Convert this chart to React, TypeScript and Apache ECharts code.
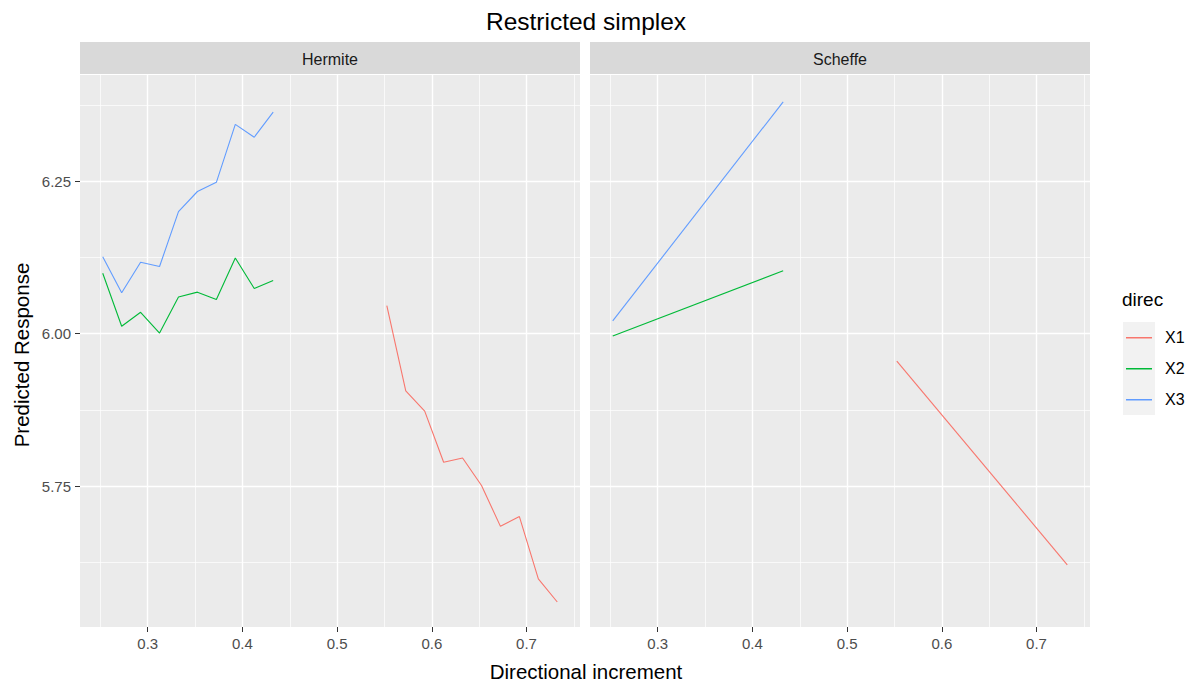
import React, { useEffect, useRef } from "react";
import * as echarts from "echarts";

// ---- data ----
const panels = ["Hermite", "Scheffe"];
const groups = ["X1", "X2", "X3"];
const groupColors = ["#F8766D", "#00BA38", "#619CFF"];

// Hermite panel
const hermiteX1X = [0.5525, 0.5725, 0.5925, 0.6125, 0.6325, 0.6525, 0.6725, 0.6925, 0.7125, 0.7325];
const hermiteX1Y = [6.046, 5.906, 5.873, 5.789, 5.796, 5.751, 5.684, 5.700, 5.598, 5.560];
const hermiteX2X = [0.2525, 0.2725, 0.2925, 0.3125, 0.3325, 0.3525, 0.3725, 0.3925, 0.4125, 0.4325];
const hermiteX2Y = [6.099, 6.012, 6.035, 6.001, 6.060, 6.068, 6.056, 6.124, 6.074, 6.087];
const hermiteX3X = [0.2525, 0.2725, 0.2925, 0.3125, 0.3325, 0.3525, 0.3725, 0.3925, 0.4125, 0.4325];
const hermiteX3Y = [6.126, 6.067, 6.117, 6.110, 6.200, 6.233, 6.248, 6.343, 6.322, 6.363];

// Scheffe panel (straight lines)
const scheffeX1X = [0.5525, 0.7325];
const scheffeX1Y = [5.955, 5.621];
const scheffeX2X = [0.2525, 0.4325];
const scheffeX2Y = [5.996, 6.103];
const scheffeX3X = [0.2525, 0.4325];
const scheffeX3Y = [6.021, 6.380];

// axes
const xRange = [0.2285, 0.7565];
const yRange = [5.519, 6.424];
const xTicks = [0.3, 0.4, 0.5, 0.6, 0.7];
const xMinor = [0.25, 0.35, 0.45, 0.55, 0.65, 0.75];
const yTicks = [5.75, 6.0, 6.25];
const yMinor = [5.625, 5.875, 6.125, 6.375];

const FONT = "'Liberation Sans', Arial, sans-serif";

const zip = (xs: number[], ys: number[]) => xs.map((x, i) => [x, ys[i]]);

const panelData = [
  [zip(hermiteX1X, hermiteX1Y), zip(hermiteX2X, hermiteX2Y), zip(hermiteX3X, hermiteX3Y)],
  [zip(scheffeX1X, scheffeX1Y), zip(scheffeX2X, scheffeX2Y), zip(scheffeX3X, scheffeX3Y)],
];

const PANEL_TOP = 75;
const PANEL_H = 552;
const PANEL_W = 500;
const PANEL_LEFTS = [80, 590];

// legend key glyph: a thin horizontal bar inside a 26x31 box
const KEY_ICON =
  "path://M0,0L0.01,0L0.01,0.01L0,0.01Z M25.99,30.99L26,30.99L26,31L25.99,31Z M0,15L26,15L26,16.4L0,16.4Z";

export default function App() {
  const ref = useRef<HTMLDivElement>(null);

  useEffect(() => {
    if (!ref.current) return;
    const chart = echarts.init(ref.current, null, { renderer: "svg" });

    const grids = PANEL_LEFTS.map((left) => ({
      left,
      top: PANEL_TOP,
      width: PANEL_W,
      height: PANEL_H,
      show: true,
      backgroundColor: "#EBEBEB",
      borderWidth: 0,
      containLabel: false,
    }));

    const xAxes: any[] = [];
    const yAxes: any[] = [];
    PANEL_LEFTS.forEach((_, gi) => {
      xAxes.push({
        type: "value",
        gridIndex: gi,
        position: "bottom",
        min: xRange[0],
        max: xRange[1],
        axisLine: { show: false },
        axisTick: { show: true, length: 5, customValues: xTicks, lineStyle: { color: "#333333", width: 1 } },
        axisLabel: {
          show: true,
          customValues: xTicks,
          formatter: (v: number) => v.toFixed(1),
          color: "#4D4D4D",
          fontSize: 15,
          fontFamily: FONT,
          margin: 9,
        },
        splitLine: { show: true, lineStyle: { color: "#FFFFFF", width: 1.4 } },
      });
      xAxes.push({
        type: "value",
        gridIndex: gi,
        position: "bottom",
        min: xRange[0],
        max: xRange[1],
        axisLine: { show: false },
        axisTick: { show: false, customValues: xMinor },
        axisLabel: { show: false },
        splitLine: { show: true, lineStyle: { color: "#FFFFFF", width: 0.7 } },
      });
      yAxes.push({
        type: "value",
        gridIndex: gi,
        position: "left",
        min: yRange[0],
        max: yRange[1],
        axisLine: { show: false },
        axisTick: {
          show: gi === 0,
          length: 5,
          customValues: yTicks,
          lineStyle: { color: "#333333", width: 1 },
        },
        axisLabel: {
          show: gi === 0,
          customValues: yTicks,
          formatter: (v: number) => v.toFixed(2),
          color: "#4D4D4D",
          fontSize: 15,
          fontFamily: FONT,
          margin: 9,
        },
        splitLine: { show: true, lineStyle: { color: "#FFFFFF", width: 1.4 } },
      });
      yAxes.push({
        type: "value",
        gridIndex: gi,
        position: "left",
        min: yRange[0],
        max: yRange[1],
        axisLine: { show: false },
        axisTick: { show: false, customValues: yMinor },
        axisLabel: { show: false },
        splitLine: { show: true, lineStyle: { color: "#FFFFFF", width: 0.7 } },
      });
    });

    const series: any[] = [];
    panels.forEach((_, pi) => {
      groups.forEach((g, gi) => {
        series.push({
          type: "line",
          name: g,
          xAxisIndex: pi * 2,
          yAxisIndex: pi * 2,
          data: panelData[pi][gi],
          symbol: "none",
          showSymbol: false,
          clip: true,
          color: groupColors[gi],
          itemStyle: { color: groupColors[gi] },
          lineStyle: { color: groupColors[gi], width: 1.1 },
          z: 3,
        });
      });
    });

    const graphic: any[] = [];
    // strips
    panels.forEach((p, pi) => {
      graphic.push({
        type: "rect",
        shape: { x: PANEL_LEFTS[pi], y: 42, width: PANEL_W, height: 32 },
        style: { fill: "#D9D9D9" },
        z: 0,
      });
      graphic.push({
        type: "text",
        x: PANEL_LEFTS[pi] + PANEL_W / 2,
        y: 59,
        style: {
          text: p,
          fill: "#1A1A1A",
          font: `16px ${FONT}`,
          align: "center",
          verticalAlign: "middle",
        },
        z: 1,
      });
    });
    // title
    graphic.push({
      type: "text",
      x: 586,
      y: 21,
      style: {
        text: "Restricted simplex",
        fill: "#000000",
        font: `24.5px ${FONT}`,
        align: "center",
        verticalAlign: "middle",
      },
    });
    // axis titles
    graphic.push({
      type: "text",
      x: 586,
      y: 671,
      style: {
        text: "Directional increment",
        fill: "#000000",
        font: `20.5px ${FONT}`,
        align: "center",
        verticalAlign: "middle",
      },
    });
    graphic.push({
      type: "text",
      x: 21,
      y: 355,
      rotation: Math.PI / 2,
      style: {
        text: "Predicted Response",
        fill: "#000000",
        font: `20.5px ${FONT}`,
        align: "center",
        verticalAlign: "middle",
      },
    });
    // legend title and key background
    graphic.push({
      type: "text",
      x: 1122,
      y: 299,
      style: {
        text: "direc",
        fill: "#000000",
        font: `19px ${FONT}`,
        align: "left",
        verticalAlign: "middle",
      },
    });
    graphic.push({
      type: "rect",
      shape: { x: 1123, y: 322, width: 32, height: 93 },
      style: { fill: "#F2F2F2" },
      z: 0,
    });

    chart.setOption({
      animation: false,
      backgroundColor: "#FFFFFF",
      textStyle: { fontFamily: FONT },
      grid: grids,
      xAxis: xAxes,
      yAxis: yAxes,
      series,
      graphic,
      legend: {
        data: groups.map((g, i) => ({ name: g, icon: KEY_ICON, itemStyle: { color: groupColors[i] } })),
        orient: "vertical",
        left: 1126,
        top: 322,
        padding: 0,
        itemWidth: 26,
        itemHeight: 31,
        itemGap: 0,
        selectedMode: false,
        z: 10,
        textStyle: { fontSize: 16, color: "#000000", fontFamily: FONT, padding: [0, 0, 0, 8] },
      },
    });

    return () => chart.dispose();
  }, []);

  return (
    <div
      ref={ref}
      style={{ position: "absolute", left: 0, top: 0, width: 1194, height: 684 }}
    />
  );
}
